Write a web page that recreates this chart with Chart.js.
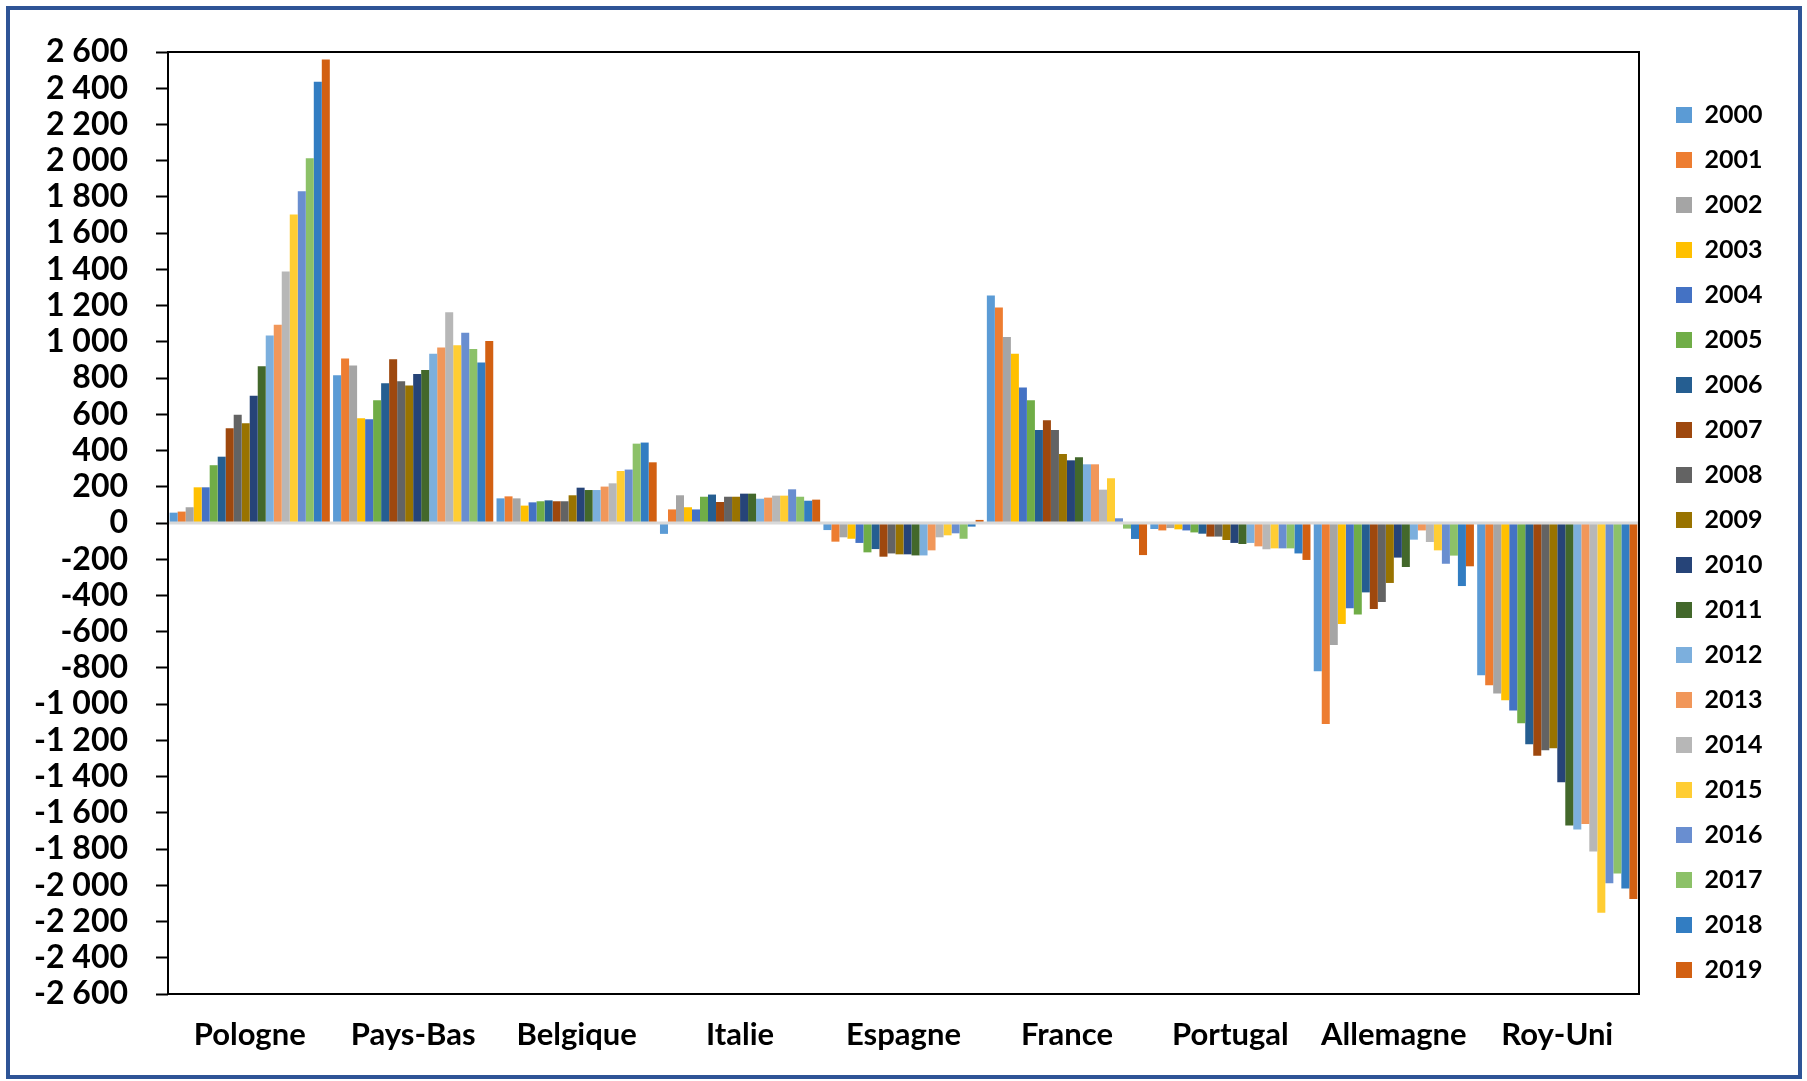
<!DOCTYPE html>
<html>
<head>
<meta charset="utf-8">
<script src="https://cdn.jsdelivr.net/npm/chart.js@4/dist/chart.umd.min.js"></script>
<style>
  html, body { margin: 0; padding: 0; background: #fff; }
  #wrap { position: relative; width: 1807px; height: 1081px; }
  #cadre { position: absolute; left: 6px; top: 6px; width: 1788px; height: 1065px; border: 4px solid #2E5496; pointer-events: none; }
</style>
</head>
<body>
<div id="wrap">
  <canvas id="mychart" width="1807" height="1081"></canvas>
  <div id="cadre"></div>
</div>
<script>
const pays = ['Pologne', 'Pays-Bas', 'Belgique', 'Italie', 'Espagne', 'France', 'Portugal', 'Allemagne', 'Roy-Uni'];
const annees = ['2000','2001','2002','2003','2004','2005','2006','2007','2008','2009',
                '2010','2011','2012','2013','2014','2015','2016','2017','2018','2019'];

// valeurs par pays, de 2000 a 2019
const pologne   = [57, 63, 87, 197, 197, 319, 366, 523, 597, 551, 702, 865, 1035, 1094, 1388, 1703, 1832, 2013, 2436, 2558];
const paysBas   = [816, 908, 869, 578, 573, 678, 771, 904, 783, 759, 823, 845, 934, 969, 1164, 981, 1050, 961, 886, 1004];
const belgique  = [136, 147, 136, 96, 114, 120, 125, 120, 120, 153, 195, 182, 182, 201, 219, 287, 295, 438, 444, 335];
const italie    = [-60, 75, 153, 87, 75, 145, 157, 116, 145, 145, 162, 162, 134, 140, 151, 151, 186, 145, 123, 129];
const espagne   = [-39, -103, -79, -87, -110, -162, -144, -186, -168, -173, -173, -179, -179, -151, -79, -68, -57, -87, -20, 17];
const france    = [1256, 1189, 1027, 934, 748, 678, 514, 567, 514, 381, 346, 363, 324, 324, 184, 247, 26, -31, -88, -177];
const portugal  = [-33, -41, -28, -35, -41, -52, -59, -75, -75, -94, -110, -116, -110, -129, -145, -140, -140, -140, -168, -204];
const allemagne = [-819, -1110, -674, -558, -471, -505, -383, -475, -436, -331, -191, -243, -92, -41, -105, -151, -225, -180, -348, -239];
const royUni    = [-841, -895, -941, -978, -1035, -1105, -1221, -1285, -1254, -1243, -1431, -1670, -1692, -1661, -1814, -2151, -1989, -1935, -2018, -2075];

const couleurs = ['#5B9BD5','#ED7D31','#A5A5A5','#FFC000','#4472C4','#70AD47','#255E91','#9E480E','#636363','#997300',
                  '#264478','#43682B','#7CAFDD','#F1975A','#B7B7B7','#FFCD33','#698ED0','#8CC168','#327DC2','#D26012'];

const parPays = [pologne, paysBas, belgique, italie, espagne, france, portugal, allemagne, royUni];

const datasets = annees.map((an, i) => ({
    label: an,
    data: parPays.map(p => p[i]),
    backgroundColor: couleurs[i],
    borderWidth: 0,
    barPercentage: 1,
    categoryPercentage: 0.98
}));

function fmt(v) {
    const s = String(Math.abs(v));
    const t = s.length > 3 ? s.slice(0, -3) + ' ' + s.slice(-3) : s;
    return (v < 0 ? '-' : '') + t;
}

// cadre noir de la zone de tracé + ligne du zéro
const cadre = {
    id: 'cadre',
    afterDatasetsDraw(chart) {
        const {ctx, chartArea: a, scales: {y}} = chart;
        ctx.save();
        const y0 = y.getPixelForValue(0);
        ctx.strokeStyle = '#D9D9D9';
        ctx.lineWidth = 3;
        ctx.beginPath();
        ctx.moveTo(a.left, y0);
        ctx.lineTo(a.right, y0);
        ctx.stroke();
        ctx.strokeStyle = '#000';
        ctx.lineWidth = 2;
        ctx.strokeRect(a.left, a.top, a.right - a.left, a.bottom - a.top);
        ctx.restore();
    }
};

const police = 'Lato';

new Chart(document.getElementById('mychart'), {
    type: 'bar',
    data: { labels: pays, datasets: datasets },
    plugins: [cadre],
    options: {
        responsive: false,
        animation: false,
        layout: { padding: { left: 0, top: 4, right: 41, bottom: 0 } },
        plugins: {
            legend: {
                position: 'right',
                maxWidth: 110,
                labels: {
                    boxWidth: 16,
                    boxHeight: 16,
                    padding: 20,
                    color: '#000',
                    font: { family: police, size: 25, weight: 'bold' }
                }
            },
            tooltip: { enabled: false }
        },
        scales: {
            x: {
                grid: { display: false, drawTicks: false },
                border: { display: false },
                ticks: {
                    color: '#000',
                    padding: 22,
                    maxRotation: 0,
                    font: { family: police, size: 31, weight: 'bold' }
                },
                afterFit: s => { s.height = 87; }
            },
            x2: {
                position: 'top',
                grid: { display: false, drawTicks: false },
                border: { display: false },
                ticks: { display: false },
                afterFit: s => { s.height = 48; }
            },
            y: {
                min: -2600,
                max: 2600,
                grid: { drawOnChartArea: false, tickLength: 12, tickColor: '#000', tickWidth: 2 },
                border: { display: false },
                ticks: {
                    stepSize: 200,
                    autoSkip: false,
                    padding: 28,
                    color: '#000',
                    font: { family: police, size: 32, weight: 'bold' },
                    callback: v => fmt(v)
                },
                afterFit: s => { s.width = 168; }
            },
            y2: {
                position: 'right',
                min: -2600,
                max: 2600,
                grid: { display: false, drawTicks: false },
                border: { display: false },
                ticks: { display: false },
                afterFit: s => { s.width = 17; }
            }
        }
    }
});
</script>
</body>
</html>
